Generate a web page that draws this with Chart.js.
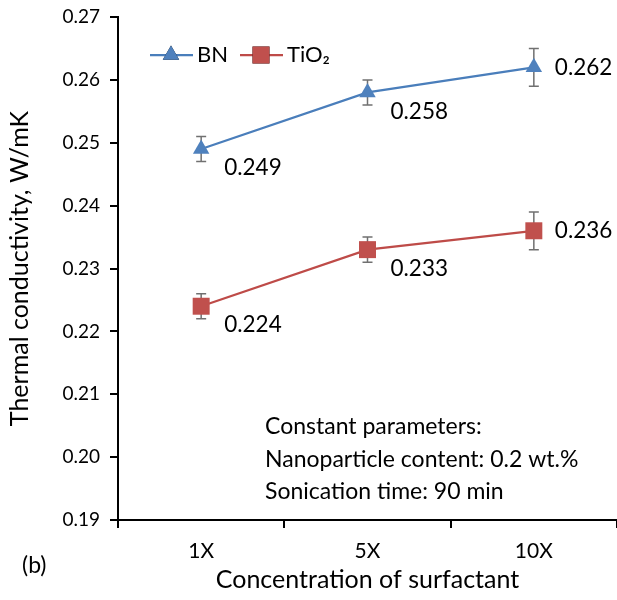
<!DOCTYPE html>
<html>
<head>
<meta charset="utf-8">
<script src="https://cdn.jsdelivr.net/npm/chart.js@4.4.0/dist/chart.umd.min.js"></script>
<style>
  html, body { margin: 0; padding: 0; background: #fff; }
  #wrap { width: 617px; height: 600px; position: relative; }
</style>
</head>
<body>
<div id="wrap"><canvas id="chart" width="617" height="600"></canvas></div>
<script>
// Data
const categories = ['1X', '5X', '10X'];
const bnValues = [0.249, 0.258, 0.262];
const bnErrors = [0.002, 0.002, 0.003];
const tio2Values = [0.224, 0.233, 0.236];
const tio2Errors = [0.002, 0.002, 0.003];
const yTicks = [0.19, 0.20, 0.21, 0.22, 0.23, 0.24, 0.25, 0.26, 0.27];
const notes = ['Constant parameters:', 'Nanoparticle content: 0.2 wt.%', 'Sonication time: 90 min'];

const FONT = 'Lato, "Open Sans", sans-serif';
const BLUE = '#4A7EBB';
const RED = '#BE4B48';

// error bars, drawn under the lines/markers
const errorBars = {
    id: 'errorBars',
    beforeDatasetsDraw(chart) {
        const ctx = chart.ctx;
        const y = chart.scales.y;
        ctx.save();
        ctx.strokeStyle = '#707070';
        ctx.lineWidth = 1.5;
        chart.data.datasets.forEach((ds, i) => {
            const meta = chart.getDatasetMeta(i);
            meta.data.forEach((pt, j) => {
                const top = y.getPixelForValue(ds.data[j] + ds.errors[j]);
                const bot = y.getPixelForValue(ds.data[j] - ds.errors[j]);
                ctx.beginPath();
                ctx.moveTo(pt.x, top); ctx.lineTo(pt.x, bot);
                ctx.moveTo(pt.x - 5, top); ctx.lineTo(pt.x + 5, top);
                ctx.moveTo(pt.x - 5, bot); ctx.lineTo(pt.x + 5, bot);
                ctx.stroke();
            });
        });
        ctx.restore();
    }
};

// value labels, legend, notes, panel letter
const extras = {
    id: 'extras',
    afterDraw(chart) {
        const ctx = chart.ctx;
        const area = chart.chartArea;
        ctx.save();
        ctx.fillStyle = '#000';
        ctx.textBaseline = 'middle';
        ctx.textAlign = 'left';

        ctx.font = '22.5px ' + FONT;
        chart.data.datasets.forEach((ds, i) => {
            const meta = chart.getDatasetMeta(i);
            meta.data.forEach((pt, j) => {
                const last = j === meta.data.length - 1;
                const dx = last ? 21 : 23;
                const dy = last ? 0 : 19;
                ctx.fillText(ds.data[j].toFixed(3), pt.x + dx, pt.y + dy);
            });
        });

        // legend
        ctx.font = '22px ' + FONT;
        let lx = area.left + 32;
        const ly = area.top + 38;
        chart.data.datasets.forEach((ds) => {
            ctx.strokeStyle = ds.borderColor;
            ctx.lineWidth = 2.25;
            ctx.beginPath();
            ctx.moveTo(lx, ly); ctx.lineTo(lx + 43, ly);
            ctx.stroke();
            Chart.helpers.drawPoint(ctx, {
                pointStyle: ds.pointStyle, radius: ds.pointRadius, borderWidth: 0
            }, lx + 21, ly);
            ctx.fillStyle = ds.pointBackgroundColor;
            ctx.fill();
            ctx.fillStyle = '#000';
            ctx.fillText(ds.label, lx + 47, ly);
            lx += 90;
        });

        // notes
        ctx.font = '23px ' + FONT;
        notes.forEach((t, k) => ctx.fillText(t, 265, 427 + k * 32.5));

        ctx.fillText('(b)', 22, 566);
        ctx.restore();
    }
};

new Chart(document.getElementById('chart'), {
    type: 'line',
    data: {
        labels: categories,
        datasets: [
            {
                label: 'BN',
                data: bnValues,
                errors: bnErrors,
                borderColor: BLUE,
                backgroundColor: '#4F81BD',
                pointBackgroundColor: '#4F81BD',
                pointBorderWidth: 0,
                pointStyle: 'triangle',
                pointRadius: 9.5,
                borderWidth: 2.25,
                tension: 0
            },
            {
                label: 'TiO\u2082',
                data: tio2Values,
                errors: tio2Errors,
                borderColor: RED,
                backgroundColor: '#C0504D',
                pointBackgroundColor: '#C0504D',
                pointBorderWidth: 0,
                pointStyle: 'rect',
                pointRadius: 12,
                borderWidth: 2.25,
                tension: 0
            }
        ]
    },
    options: {
        responsive: false,
        animation: false,
        devicePixelRatio: 1,
        layout: { autoPadding: false, padding: { left: 0, top: 17, right: 0, bottom: 0 } },
        plugins: {
            legend: { display: false },
            tooltip: { enabled: false }
        },
        scales: {
            x: {
                type: 'category',
                offset: true,
                grid: {
                    offset: true, drawOnChartArea: false, drawTicks: true,
                    tickLength: 8, color: '#000', lineWidth: 2
                },
                border: { display: true, color: '#000', width: 2 },
                ticks: { color: '#000', font: { family: FONT, size: 21 }, padding: 11 },
                title: {
                    display: true, text: 'Concentration of surfactant', color: '#000',
                    font: { family: FONT, size: 25 }, padding: { top: 0, bottom: 5 }
                },
                afterFit(scale) {
                    scale.height = 80;
                    scale.paddingLeft = 0;
                    scale.paddingRight = 0;
                }
            },
            y: {
                min: 0.19,
                max: 0.27,
                afterBuildTicks(scale) { scale.ticks = yTicks.map(v => ({ value: v })); },
                grid: {
                    drawOnChartArea: false, drawTicks: true,
                    tickLength: 8, color: '#000', lineWidth: 2
                },
                border: { display: true, color: '#000', width: 2 },
                ticks: {
                    color: '#000', font: { family: FONT, size: 19 }, padding: 10,
                    callback: (v) => Number(v).toFixed(2)
                },
                title: {
                    display: true, text: 'Thermal conductivity, W/mK', color: '#000',
                    font: { family: FONT, size: 25 }, padding: { top: 5, bottom: 0 }
                },
                afterFit(scale) {
                    scale.width = 118;
                    scale.paddingTop = 0;
                    scale.paddingBottom = 0;
                }
            }
        }
    },
    plugins: [errorBars, extras]
});
</script>
</body>
</html>
